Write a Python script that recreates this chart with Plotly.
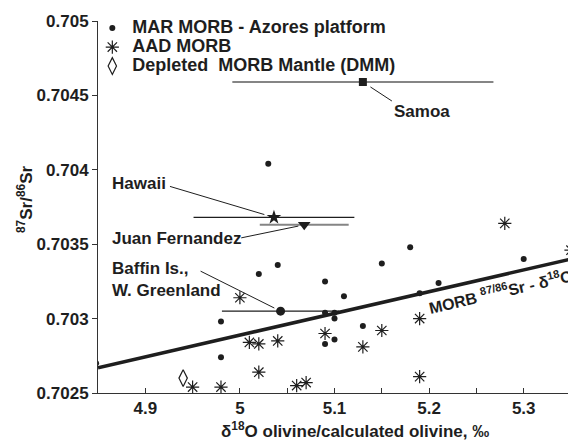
import plotly.graph_objects as go
import math

# ---------------- data ----------------
mar_x = [5.03, 5.04, 5.02, 5.09, 5.11, 4.98, 5.09, 5.10, 5.10, 5.09, 5.10, 4.98,
         5.15, 5.18, 5.21, 5.19, 5.30, 5.13, 4.848]
mar_y = [0.70404, 0.70336, 0.70330, 0.70325, 0.70315, 0.70298, 0.70304, 0.70304, 0.70300,
         0.70283, 0.70286, 0.70274, 0.70337, 0.70348, 0.70324, 0.70317, 0.70340, 0.70295, 0.70270]

aad_x = [5.00, 5.01, 5.02, 5.04, 5.09, 5.02, 4.95, 4.98, 5.06, 5.07,
         5.28, 5.35, 5.19, 5.15, 5.13, 5.19]
aad_y = [0.70314, 0.70284, 0.70283, 0.70285, 0.70290, 0.70264, 0.70254, 0.70254, 0.70255, 0.70257,
         0.70364, 0.70346, 0.70300, 0.70292, 0.70281, 0.70261]

dmm_x = [4.94]
dmm_y = [0.70260]

hot_names = ["Samoa", "Hawaii", "Juan Fernandez", "Baffin Is.,<br>W. Greenland"]
hot_x = [5.13, 5.036, 5.068, 5.043]
hot_y = [0.70459, 0.70368, 0.70363, 0.70305]
hot_xerr = [0.138, 0.085, 0.047, 0.062]

morb_x = [4.85, 5.35]
morb_y = [0.70267, 0.70340]

x_tick_vals = [4.9, 5.0, 5.1, 5.2, 5.3]
x_tick_text = ["4.9", "5", "5.1", "5.2", "5.3"]
x_minor_vals = [4.85, 4.95, 5.05, 5.15, 5.25, 5.35]
y_tick_vals = [0.7025, 0.703, 0.7035, 0.704, 0.7045, 0.705]
y_tick_text = ["0.7025", "0.703", "0.7035", "0.704", "0.7045", "0.705"]

legend_names = ["MAR MORB - Azores platform", "AAD MORB", "Depleted\u00a0 MORB Mantle (DMM)"]

# ---------------- style / layout ----------------
INK = "#1e1e1e"
GRAY = "#858585"
FAM = "Liberation Sans, Arial, sans-serif"
FS = 17

X_RANGE = [4.85, 5.35]
Y_RANGE = [0.7025, 0.705]
W, H = 568, 433          # page body adds an 8px offset
M_L, M_R, M_T, M_B = 90, 5, 13, 48
plot_w = W - M_L - M_R
plot_h = H - M_T - M_B
sx = (X_RANGE[1] - X_RANGE[0]) / plot_w   # data units per pixel
sy = (Y_RANGE[1] - Y_RANGE[0]) / plot_h


def lname(s, size=18):
    return '<span style="font-size:%dpx">%s</span>' % (size, s)


fig = go.Figure()

fig.add_trace(go.Scatter(x=morb_x, y=morb_y, mode="lines",
                         line=dict(color=INK, width=3.5), showlegend=False, hoverinfo="skip"))

fig.add_trace(go.Scatter(x=mar_x, y=mar_y, mode="markers", name=lname(legend_names[0]),
                         marker=dict(symbol="circle", size=6, color=INK)))
fig.add_trace(go.Scatter(x=aad_x, y=aad_y, mode="markers", name=lname(legend_names[1]),
                         marker=dict(symbol="asterisk-open", size=11, color=INK,
                                     line=dict(width=1.2, color=INK))))
fig.add_trace(go.Scatter(x=dmm_x, y=dmm_y, mode="markers", name=lname(legend_names[2]),
                         marker=dict(symbol="diamond-tall-open", size=12, color=INK,
                                     line=dict(width=1.2, color=INK))))

hot_symbols = ["square", "star", "triangle-down", "circle"]
hot_sizes = [8, 11, 11, 9]
hot_err_colors = [GRAY, INK, GRAY, INK]
hot_err_thick = [2, 1.2, 2, 1.4]
for i in range(len(hot_names)):
    fig.add_trace(go.Scatter(
        x=[hot_x[i]], y=[hot_y[i]], mode="markers", showlegend=False,
        marker=dict(symbol=hot_symbols[i], size=hot_sizes[i], color=INK),
        error_x=dict(type="data", array=[hot_xerr[i]], symmetric=True,
                     color=hot_err_colors[i], thickness=hot_err_thick[i], width=0)))

# leader lines: tail offset (pixels, +down) from each point, with a standoff gap at the point
leader_ax = [29, -104, -63, -80]
leader_ay = [19, -31, 13, -40]
leader_standoff = [9, 10, 6, 7]
for i in range(len(hot_names)):
    d = math.hypot(leader_ax[i], leader_ay[i])
    ux, uy = leader_ax[i] / d, leader_ay[i] / d
    fig.add_shape(type="line", xref="x", yref="y",
                  x0=hot_x[i] + ux * leader_standoff[i] * sx,
                  y0=hot_y[i] - uy * leader_standoff[i] * sy,
                  x1=hot_x[i] + leader_ax[i] * sx,
                  y1=hot_y[i] - leader_ay[i] * sy,
                  line=dict(color=INK, width=1))

label_pos = [(5.161, 0.70439), (4.863, 0.70391), (4.863, 0.703535), (4.863, 0.703266)]
for i in range(len(hot_names)):
    fig.add_annotation(x=label_pos[i][0], y=label_pos[i][1], xref="x", yref="y",
                       text=hot_names[i], showarrow=False, xanchor="left", yanchor="middle",
                       align="left", font=dict(family=FAM, size=FS, color=INK, weight="bold"))

fig.add_annotation(x=5.275, y=0.703186, xref="x", yref="y",
                   text="MORB <sup>87/86</sup>Sr - δ<sup>18</sup>O", showarrow=False,
                   textangle=-13, font=dict(family=FAM, size=16, color=INK, weight="bold"))

# axis titles
fig.add_annotation(x=(354.7 - 8 - M_L) / plot_w, y=-(430 - 393) / plot_h, xref="paper", yref="paper",
                   text="δ<sup>18</sup>O olivine/calculated olivine, ‰", showarrow=False,
                   xanchor="center", yanchor="middle",
                   font=dict(family=FAM, size=FS, color=INK, weight="bold"))
fig.add_annotation(x=(25 - 98) / plot_w, y=(393 - 200) / plot_h, xref="paper", yref="paper",
                   text="<sup>87</sup>Sr/<sup>86</sup>Sr", showarrow=False, textangle=-90,
                   xanchor="center", yanchor="middle",
                   font=dict(family=FAM, size=FS, color=INK, weight="bold"))

fig.update_layout(
    width=W, height=H,
    margin=dict(l=M_L, r=M_R, t=M_T, b=M_B),
    paper_bgcolor="white", plot_bgcolor="white",
    font=dict(family=FAM, size=FS, color=INK),
    showlegend=True,
    legend=dict(x=-0.012, y=1.02, xanchor="left", yanchor="top",
                bgcolor="rgba(0,0,0,0)", borderwidth=0,
                font=dict(family=FAM, size=12, color=INK, weight="bold")),
    xaxis=dict(range=X_RANGE, showline=True, linecolor="#333", linewidth=1,
               ticks="inside", ticklen=5, tickcolor="#333", tickwidth=1,
               tickmode="array", tickvals=x_tick_vals, ticktext=x_tick_text,
               minor=dict(tickmode="array", tickvals=x_minor_vals, ticks="inside",
                          ticklen=5, tickcolor="#333", tickwidth=1, showgrid=False),
               showgrid=False, zeroline=False,
               tickfont=dict(family=FAM, size=FS, color=INK, weight="bold")),
    yaxis=dict(range=Y_RANGE, showline=True, linecolor="#333", linewidth=1,
               ticks="outside", ticklen=5, tickcolor="#333", tickwidth=1,
               tickmode="array", tickvals=y_tick_vals, ticktext=y_tick_text,
               showgrid=False, zeroline=False,
               tickfont=dict(family=FAM, size=FS, color=INK, weight="bold")),
)

fig.write_html("out.html")
